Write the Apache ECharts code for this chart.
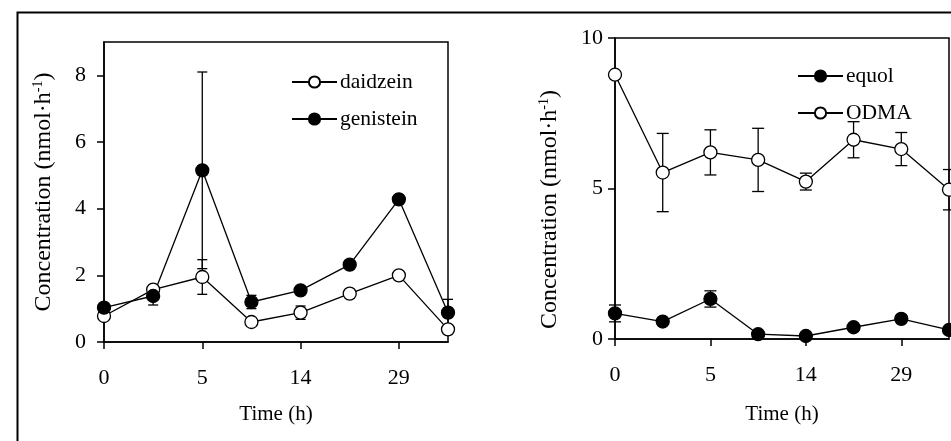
<!DOCTYPE html>
<html>
<head>
<meta charset="utf-8">
<script src="https://cdn.jsdelivr.net/npm/echarts@6/dist/echarts.min.js"></script>
<style>
  html, body { margin: 0; padding: 0; background: #fff; }
  #chart { width: 951px; height: 441px; }
</style>
</head>
<body>
<div id="chart"></div>
<script>
// Sampling times (only every other one is labelled on the axis)
const timeLabels = ['0', '', '5', '', '14', '', '29', ''];

// Left panel: isoflavone aglycones
const daidzein    = [0.78, 1.57, 1.95, 0.60, 0.88, 1.45, 2.00, 0.38];
const daidzeinErr = [0.10, 0.05, 0.52, 0.05, 0.20, 0.05, 0.05, 0.05];
const genistein    = [1.03, 1.38, 5.15, 1.20, 1.55, 2.32, 4.28, 0.88];
const genisteinErr = [0.10, 0.27, 2.95, 0.20, 0.08, 0.08, 0.10, 0.40];

// Right panel: metabolites
const equol    = [0.85, 0.58, 1.33, 0.16, 0.10, 0.39, 0.67, 0.30];
const equolErr = [0.28, 0.05, 0.27, 0.05, 0.05, 0.05, 0.10, 0.05];
const odma     = [8.78, 5.53, 6.20, 5.95, 5.23, 6.62, 6.31, 4.96];
const odmaErr  = [0.10, 1.30, 0.75, 1.05, 0.28, 0.60, 0.55, 0.67];

const leftTicks = [0, 2, 4, 6, 8];
const rightTicks = [0, 5, 10];

const FONT = 'Liberation Serif, Times New Roman, serif';
const FS_TICK = 22;
const FS_NAME_X = 21;
const FS_NAME_Y = 24;
const FS_LEGEND = 21.5;
const LW = 1.3;

function errorSeries(values, errs, gridIdx, capHalf) {
  return {
    type: 'custom',
    xAxisIndex: gridIdx,
    yAxisIndex: gridIdx,
    silent: true,
    clip: false,
    z: 1,
    data: values.map((v, i) => [i, v - errs[i], v + errs[i]]),
    renderItem: function (params, api) {
      const lo = api.coord([api.value(0), api.value(1)]);
      const hi = api.coord([api.value(0), api.value(2)]);
      const style = { stroke: '#000', lineWidth: LW };
      return {
        type: 'group',
        children: [
          { type: 'line', shape: { x1: lo[0], y1: lo[1], x2: hi[0], y2: hi[1] }, style },
          { type: 'line', shape: { x1: lo[0] - capHalf, y1: lo[1], x2: lo[0] + capHalf, y2: lo[1] }, style },
          { type: 'line', shape: { x1: hi[0] - capHalf, y1: hi[1], x2: hi[0] + capHalf, y2: hi[1] }, style }
        ]
      };
    }
  };
}

function lineSeries(name, values, gridIdx, filled) {
  return {
    name: name,
    type: 'line',
    xAxisIndex: gridIdx,
    yAxisIndex: gridIdx,
    data: values,
    clip: false,
    z: 3,
    symbol: 'circle',
    symbolSize: 13,
    showAllSymbol: true,
    lineStyle: { color: '#000', width: LW },
    itemStyle: { color: filled ? '#000' : '#fff', borderColor: '#000', borderWidth: LW },
    emphasis: { disabled: true }
  };
}

function xAxis(gridIdx, nameGap) {
  return {
    type: 'category',
    gridIndex: gridIdx,
    data: timeLabels,
    boundaryGap: false,
    name: 'Time (h)',
    nameLocation: 'middle',
    nameGap: nameGap,
    nameTextStyle: { fontFamily: FONT, fontSize: FS_NAME_X, color: '#000' },
    axisLine: { lineStyle: { color: '#000', width: 1.5 } },
    axisTick: { show: true, interval: 1, length: 7, inside: false, lineStyle: { color: '#000', width: 1.5 } },
    axisLabel: { interval: 1, margin: 25, fontFamily: FONT, fontSize: FS_TICK, color: '#000' },
    splitLine: { show: false }
  };
}

function yAxis(gridIdx, max, ticks, nameGap, labelMargin, namePadding) {
  return {
    type: 'value',
    gridIndex: gridIdx,
    min: 0,
    max: max,
    name: 'Concentration (nmol·h{sup|-1})',
    nameLocation: 'middle',
    nameGap: nameGap,
    nameRotate: 90,
    nameTextStyle: {
      fontFamily: FONT, fontSize: FS_NAME_Y, color: '#000',
      padding: namePadding,
      rich: { sup: { fontFamily: FONT, fontSize: 14, color: '#000', verticalAlign: 'top', padding: [0, 0, 11, 0] } }
    },
    axisLine: { show: true, lineStyle: { color: '#000', width: 1.5 } },
    axisTick: { show: true, length: 7, inside: false, customValues: ticks, lineStyle: { color: '#000', width: 1.5 } },
    axisLabel: { customValues: ticks, margin: labelMargin, fontFamily: FONT, fontSize: FS_TICK, color: '#000' },
    splitLine: { show: false }
  };
}

function legend(names, left, top) {
  return {
    data: names,
    left: left, top: top, orient: 'vertical',
    padding: 0,
    itemWidth: 45, itemHeight: 14, itemGap: 15,
    textStyle: { fontFamily: FONT, fontSize: FS_LEGEND, color: '#000', padding: [0, 0, 0, -2] },
    selectedMode: false
  };
}

const chart = echarts.init(document.getElementById('chart'), null, { renderer: 'canvas' });

chart.setOption({
  animation: false,
  backgroundColor: '#fff',
  graphic: [{
    type: 'rect',
    left: 15, top: 10,
    shape: { x: 0, y: 0, width: 1000, height: 500 },
    style: { fill: 'none', stroke: '#000', lineWidth: 2 },
    silent: true
  }],
  grid: [
    { left: 104, top: 42, right: 503, bottom: 99, show: true, borderColor: '#000', borderWidth: 1.5, backgroundColor: 'transparent' },
    { left: 615, top: 38, right: 2, bottom: 102, show: true, borderColor: '#000', borderWidth: 1.5, backgroundColor: 'transparent' }
  ],
  legend: [
    legend(['daidzein', 'genistein'], 291, 71),
    legend(['equol', 'ODMA'], 797, 65)
  ],
  xAxis: [xAxis(0, 62), xAxis(1, 65)],
  yAxis: [
    yAxis(0, 9, leftTicks, 48, 18, [0, 0, 0, 0]),
    yAxis(1, 10, rightTicks, 53, 12, [0, 42, 0, 0])
  ],
  series: [
    errorSeries(daidzein, daidzeinErr, 0, 5),
    errorSeries(genistein, genisteinErr, 0, 5),
    lineSeries('daidzein', daidzein, 0, false),
    lineSeries('genistein', genistein, 0, true),
    errorSeries(equol, equolErr, 1, 6),
    errorSeries(odma, odmaErr, 1, 6),
    lineSeries('equol', equol, 1, true),
    lineSeries('ODMA', odma, 1, false)
  ]
});
</script>
</body>
</html>
